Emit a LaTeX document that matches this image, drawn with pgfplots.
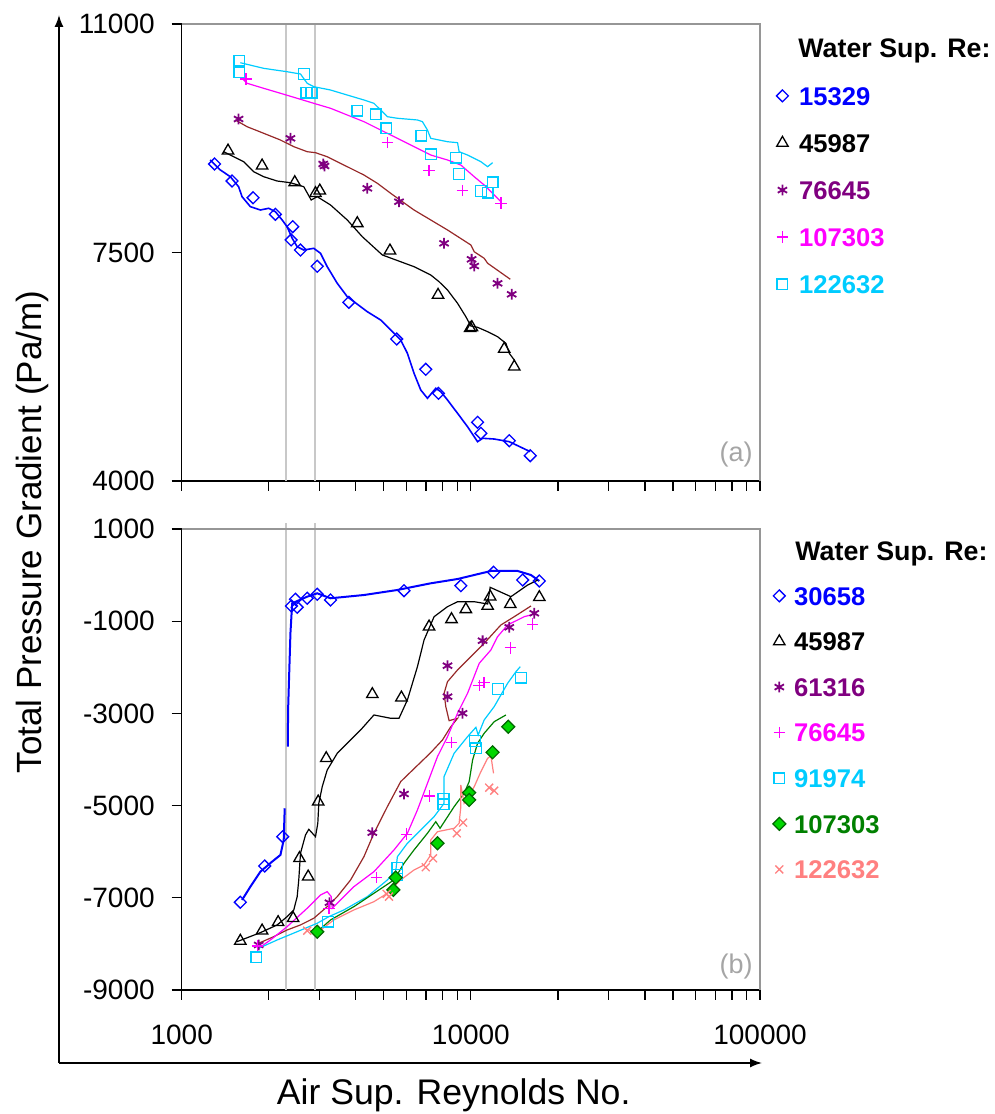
\documentclass[border=0pt]{standalone}
\usepackage{fontspec}
\setmainfont{Liberation Sans}
\usepackage{pgfplots}
\pgfplotsset{compat=1.18}
\usetikzlibrary{arrows.meta}

\definecolor{cBlue}{RGB}{0,0,255}
\definecolor{cPurple}{RGB}{128,0,128}
\definecolor{cBrown}{RGB}{150,40,40}
\definecolor{cMagenta}{RGB}{255,0,255}
\definecolor{cCyan}{RGB}{0,204,255}
\definecolor{cGreenFill}{RGB}{0,215,0}
\definecolor{cGreen}{RGB}{0,128,0}
\definecolor{cSalmon}{RGB}{255,128,128}
\definecolor{cFrame}{RGB}{150,150,150}
\definecolor{cGuide}{RGB}{200,200,200}
\definecolor{cTag}{RGB}{165,165,165}

% marker shapes
\tikzset{
  mkdia/.style={mark=square, mark size=2.1pt, mark options={rotate=45}, line width=0.65pt},
  mktri/.style={mark=triangle, mark size=3.3pt, line width=0.65pt},
  mkast/.style={mark=asterisk, mark size=2.7pt, line width=0.9pt},
  mkpls/.style={mark=+, mark size=2.9pt, line width=0.7pt},
  mksqr/.style={mark=square, mark size=2.7pt, line width=0.65pt},
  mkgdia/.style={mark=square*, mark size=2.3pt, line width=0.6pt,
                 mark options={rotate=45, fill=cGreenFill, draw=cGreen!80!black}},
  mkcrs/.style={mark=x, mark size=2.8pt, line width=0.65pt},
}

\begin{document}
\begin{tikzpicture}
\useasboundingbox (0pt,0pt) rectangle (497.5pt,557pt);

% ---------------- (a) ----------------
\begin{axis}[
  at={(90.85pt,316.5pt)}, anchor=south west,
  scale only axis, width=289.15pt, height=228.5pt,
  xmode=log, xmin=1000, xmax=100000,
  ymin=4000, ymax=11000,
  axis lines*=left,
  axis line style={-, line width=0.75pt, black},
  tick align=outside,
  major tick length=5pt, minor tick length=5pt,
  tick style={black, line width=0.6pt},
  scaled ticks=false,
  xtick={1000,10000,100000}, xticklabels={},
  ytick={4000,7500,11000}, yticklabels={4000,7500,11000},
  tick label style={font=\fontsize{14}{16}\selectfont},
  yticklabel style={xshift=-5pt},
  clip=false,
  legend cell align=left,
  legend style={draw=none, fill=none, inner sep=0pt, outer sep=0pt,
    at={(1.0285,0.8628)}, anchor=north west, row sep=14.4pt, column sep=5.4pt,
    nodes={font=\bfseries\fontsize{12.8}{14}\selectfont, text height=9.15pt,
           text depth=0pt, inner ysep=0pt, inner xsep=0pt, anchor=west}},
]
\addplot[forget plot, no markers, cGuide, line width=1pt] coordinates {(2300,4000) (2300,11000)};
\addplot[forget plot, no markers, cGuide, line width=1pt] coordinates {(2900,4000) (2900,11000)};

% Re_w = 15329
\addplot[forget plot, no markers, cBlue, line width=0.8pt] coordinates {
(1255,8917) (1360,8764) (1473,8661) (1573,8508) (1617,8355) (1728,8202) (1871,8151)
(1999,8177) (2109,8125) (2225,7998) (2315,7895) (2410,7718) (2508,7589) (2643,7538)
(2863,7564) (3020,7488) (3186,7283) (3451,7028) (3738,6823) (4385,6593) (4876,6466)
(5421,6262) (5719,6160) (6033,5956) (6360,5650) (6710,5394) (7078,5267) (7563,5420)
(7871,5368) (8303,5241) (8994,5037) (9740,4832) (10550,4602) (10980,4654) (12040,4643)
(13580,4602) (16050,4449)};
\addplot[only marks, cBlue, mkdia] coordinates {
(1299,8856) (1493,8595) (1765,8339) (2109,8085) (2421,7895) (2390,7692) (2575,7538)
(2942,7289) (3786,6737) (5540,6175) (6983,5711) (7727,5343) (10550,4899) (10830,4731)
(13580,4617) (16050,4388)};
\addlegendentry{\textcolor{cBlue}{15329}}

% Re_w = 45987
\addplot[forget plot, no markers, black, line width=0.6pt] coordinates {
(1396,9044) (1512,8967) (1638,8891) (1774,8738) (1921,8661) (2138,8595) (2377,8569)
(2643,8508) (2804,8304) (2942,8355) (3271,8228) (3738,7998) (4213,7742) (4942,7462)
(6360,7283) (7267,7155) (7764,7053) (8303,6926) (8994,6722) (9608,6517) (10000,6374)
(10550,6354) (11430,6287) (12370,6210) (13220,6109) (13580,5956) (14130,5853)};
\addplot[only marks, black, mktri] coordinates {
(1446,9059) (1897,8830) (2460,8575) (2902,8407) (3003,8447) (4048,7947) (5251,7528)
(7703,6849) (9944,6339) (10080,6354) (13040,6022) (14130,5751)};
\addlegendentry{45987}

% Re_w = 76645
\addplot[forget plot, no markers, cBrown, line width=0.6pt] coordinates {
(1533,9530) (1683,9427) (1921,9326) (2195,9223) (2441,9121) (2716,9044) (2902,9029)
(3186,8967) (3738,8814) (4268,8687) (4749,8560) (5280,8407) (6360,8151) (8303,7845)
(10000,7615) (10270,7512) (11120,7411) (11430,7335) (13690,7090)};
\addplot[only marks, cPurple, mkast] coordinates {
(1573,9545) (2377,9249) (3086,8856) (3118,8825) (4385,8483) (5643,8278) (8080,7641)
(10060,7396) (10270,7293) (12370,7028) (13840,6860)};
\addlegendentry{\textcolor{cPurple}{76645}}

% Re_w = 107303
\addplot[forget plot, no markers, cMagenta, line width=0.6pt] coordinates {
(1617,10168) (1683,10092) (1921,10015) (2195,9939) (2508,9862) (2863,9785) (3271,9709)
(3738,9606) (4268,9504) (4876,9376) (5571,9249) (6360,9121) (7267,8993) (8303,8917)
(9233,8840) (10270,8661) (11120,8534) (12700,8278)};
\addplot[only marks, cMagenta, mkpls] coordinates {
(1669,10158) (5143,9182) (7169,8753) (9359,8447) (12700,8254)};
\addlegendentry{\textcolor{cMagenta}{107303}}

% Re_w = 122632
\addplot[forget plot, no markers, cCyan, line width=0.6pt] coordinates {
(1595,10407) (1921,10321) (2315,10269) (2575,10234) (2716,10092) (2863,10040)
(3271,9989) (3738,9912) (4268,9836) (4622,9785) (4876,9683) (5143,9580) (5571,9556)
(6535,9530) (6801,9504) (7078,9376) (7267,9249) (8303,9197) (8994,9182) (9108,9044)
(9740,8993) (10830,8891) (11430,8814) (11890,8876)};
\addplot[only marks, cCyan, mksqr] coordinates {
(1582,10438) (1582,10260) (2643,10234) (2701,9948) (2811,9948) (4048,9672) (4685,9617)
(5102,9402) (6747,9289) (7267,9004) (8872,8952) (9108,8702) (10830,8442) (11430,8416)
(11890,8575)};
\addlegendentry{\textcolor{cCyan}{122632}}

\draw[cFrame, line width=0.75pt] (rel axis cs:0,1) -- (rel axis cs:1,1) -- (rel axis cs:1,0);
\node[anchor=base west, inner sep=0pt, font=\bfseries\fontsize{13.4}{15}\selectfont]
  at (rel axis cs:1.0657,0.9271) {Water Sup. Re:};
\node[text=cTag, font=\fontsize{13.5}{16}\selectfont] at (rel axis cs:0.9585,0.057) {(a)};
\end{axis}

% ---------------- (b) ----------------
\begin{axis}[
  at={(90.85pt,62pt)}, anchor=south west,
  scale only axis, width=289.15pt, height=230.5pt,
  xmode=log, xmin=1000, xmax=100000,
  ymin=-9000, ymax=1000,
  axis lines*=left,
  axis line style={-, line width=0.75pt, black},
  tick align=outside,
  major tick length=5pt, minor tick length=5pt,
  tick style={black, line width=0.6pt},
  scaled ticks=false,
  xtick={1000,10000,100000}, xticklabels={1000,10000,100000},
  ytick={-9000,-7000,-5000,-3000,-1000,1000},
  yticklabels={-9000,-7000,-5000,-3000,-1000,1000},
  tick label style={font=\fontsize{14}{16}\selectfont},
  yticklabel style={xshift=-5pt},
  xticklabel style={yshift=-9pt},
  clip=false,
  legend cell align=left,
  legend style={draw=none, fill=none, inner sep=0pt, outer sep=0pt,
    at={(1.0221,0.8748)}, anchor=north west, row sep=13.65pt, column sep=4.2pt,
    nodes={font=\bfseries\fontsize{12.8}{14}\selectfont, text height=9.15pt,
           text depth=0pt, inner ysep=0pt, inner xsep=0pt, anchor=west}},
]
\addplot[forget plot, no markers, cGuide, line width=1pt] coordinates {(2300,-9000) (2300,1140)};
\addplot[forget plot, no markers, cGuide, line width=1pt] coordinates {(2900,-9000) (2900,1140)};

% Re_w = 30658
\addplot[forget plot, no markers, cBlue, line width=1pt] coordinates {
(1617,-7047) (1728,-6759) (1871,-6433) (2054,-6216) (2195,-6071) (2253,-5746) (2271,-5058)};
\addplot[forget plot, no markers, cBlue, line width=1pt] coordinates {
(2327,-3722) (2334,-2889) (2377,-1262) (2410,-612) (2716,-468) (2942,-395) (3271,-503)
(4268,-432) (5571,-323) (7267,-178) (8994,-85) (11730,89) (14520,89) (16140,2) (17250,-128)};
\addplot[only marks, cBlue, mkdia] coordinates {
(1595,-7097) (1936,-6310) (2236,-5674) (2396,-670) (2474,-525) (2508,-698) (2716,-503)
(2942,-416) (3271,-540) (5872,-338) (9233,-230) (11980,61) (15110,-106) (17250,-128)};
\addlegendentry{\textcolor{cBlue}{30658}}

% Re_w = 45987
\addplot[forget plot, no markers, black, line width=0.6pt] coordinates {
(1554,-7951) (1871,-7756) (2138,-7589) (2315,-7409) (2441,-7264) (2508,-6975) (2540,-6613)
(2575,-6034) (2680,-5637) (2751,-5514) (2902,-5674) (2956,-5383) (2980,-4950) (3062,-4590)
(3186,-4227) (3451,-3865) (3838,-3577) (4156,-3360) (4622,-3034) (5280,-3106) (5643,-3106)
(6033,-2709) (6535,-1987) (6889,-1408) (7463,-902) (8303,-685) (8994,-577) (10270,-577)
(11430,-627) (11660,-265) (13760,-468) (15720,-215) (17030,-106)};
\addplot[only marks, black, mktri] coordinates {
(1595,-7936) (1897,-7713) (2155,-7531) (2429,-7444) (2554,-6143) (2738,-6542) (2965,-4915)
(3161,-3974) (4563,-2585) (5752,-2659) (7169,-1119) (8572,-959) (9608,-742) (11430,-670)
(11660,-468) (13690,-633) (17250,-481)};
\addlegendentry{45987}

% Re_w = 61316
\addplot[forget plot, no markers, cBrown, line width=0.6pt] coordinates {
(1846,-7986) (2081,-7843) (2315,-7698) (2575,-7589) (2863,-7444) (3186,-7192) (3451,-6975)
(3838,-6613) (4268,-6108) (4622,-5600) (5143,-5023) (5719,-4480) (6360,-4200) (7267,-3850)
(7977,-3577) (8500,-3300) (8994,-3106) (8410,-3158) (8191,-2854) (8080,-2564) (8303,-2312)
(8994,-2058) (10000,-1770) (11120,-1479) (12700,-1082) (14130,-902) (16140,-670)};
\addplot[only marks, cPurple, mkast] coordinates {
(1846,-8023) (3245,-7106) (4563,-5587) (5872,-4748) (8303,-1965) (8303,-2637) (9359,-2997)
(10980,-1423) (13580,-1132) (16570,-828)};
\addlegendentry{\textcolor{cPurple}{61316}}

% Re_w = 76645
\addplot[forget plot, no markers, cMagenta, line width=0.6pt] coordinates {
(1846,-8095) (2027,-7915) (2315,-7626) (2716,-7227) (3020,-6939) (3186,-6867) (3290,-6975)
(3316,-7227) (3939,-6759) (4622,-6433) (5421,-5962) (6033,-5600) (6535,-5095) (7078,-4516)
(7665,-3939) (8303,-3505) (8994,-2997) (9740,-2564) (10690,-1913) (11730,-1624)
(12370,-1336) (13400,-1082) (15300,-902) (16140,-865)};
\addplot[only marks, cMagenta, mkpls] coordinates {
(1831,-8045) (3227,-7227) (4722,-6563) (5986,-5622) (7198,-4791) (8572,-3631) (10690,-2399)
(11120,-2334) (13690,-1575) (16360,-1067)};
\addlegendentry{\textcolor{cMagenta}{76645}}

% Re_w = 91974
\addplot[forget plot, no markers, cCyan, line width=0.6pt] coordinates {
(1846,-8095) (2138,-7915) (2508,-7735) (2942,-7552) (3227,-7409) (3638,-7264) (4385,-6975)
(5143,-6613) (5496,-6433) (5571,-6108) (6033,-5817) (6710,-5529) (7463,-5240) (8080,-4950)
(8080,-4370) (8753,-3865) (9740,-3505) (10410,-3301) (10600,-3468) (11120,-3143)
(12040,-2854) (13400,-2347) (14320,-2095) (14820,-1987)};
\addplot[only marks, cCyan, mksqr] coordinates {
(1812,-8290) (3202,-7518) (5571,-6359) (5571,-6505) (8041,-4856) (8041,-4971) (10320,-3598)
(10410,-3757) (12430,-2470) (14900,-2225)};
\addlegendentry{\textcolor{cCyan}{91974}}

% Re_w = 107303
\addplot[forget plot, no markers, cGreen, line width=0.6pt] coordinates {
(2942,-7735) (3271,-7481) (3939,-7192) (4622,-6902) (5421,-6613) (5872,-6251) (6360,-5962)
(7078,-5600) (7563,-5349) (7826,-5492) (8753,-5023) (9478,-4733) (9865,-4481) (10140,-4010)
(10550,-3648) (11120,-3431) (12040,-3180) (13220,-3034)};
\addplot[only marks, mkgdia] coordinates {
(2942,-7735) (5395,-6830) (5496,-6563) (7665,-5817) (9865,-4720) (9865,-4878) (11890,-3843)
(13470,-3288)};
\addlegendentry{\textcolor{cGreen}{107303}}

% Re_w = 122632
\addplot[forget plot, no markers, cSalmon, line width=0.6pt] coordinates {
(2643,-7661) (2942,-7756) (3358,-7481) (3939,-7264) (4622,-7084) (5143,-6902) (5719,-6613)
(6360,-6396) (6889,-6288) (7267,-6071) (7267,-5746) (7665,-5566) (8753,-5492) (9108,-5383)
(9233,-5023) (9233,-4553) (9478,-4950) (10270,-4590) (10830,-4264) (11430,-3974)
(11730,-3924) (11980,-4299)};
\addplot[only marks, cSalmon, mkcrs] coordinates {
(2716,-7713) (5114,-6917) (5210,-6975) (6983,-6338) (7402,-6143) (8943,-5600) (9404,-5370)
(11570,-4611) (12040,-4676)};
\addlegendentry{\textcolor{cSalmon}{122632}}

\draw[cFrame, line width=0.75pt] (rel axis cs:0,1) -- (rel axis cs:1,1) -- (rel axis cs:1,0);
\node[anchor=base west, inner sep=0pt, font=\bfseries\fontsize{13.4}{15}\selectfont]
  at (rel axis cs:1.0605,0.9312) {Water Sup. Re:};
\node[text=cTag, font=\fontsize{13.5}{16}\selectfont] at (rel axis cs:0.9585,0.052) {(b)};
\end{axis}

% outer arrows and axis titles
\draw[line width=0.75pt, -{Latex[length=6pt,width=4.5pt]}] (29.5pt,25.5pt) -- (29.5pt,549.5pt);
\draw[line width=0.75pt, -{Latex[length=6pt,width=4.5pt]}] (29.5pt,25.5pt) -- (381pt,25.5pt);
\node[rotate=90, anchor=base, font=\fontsize{17.5}{20}\selectfont] at (20.85pt,291pt)
  {Total Pressure Gradient (Pa/m)};
\node[anchor=base, font=\fontsize{17.8}{20}\selectfont] at (226.85pt,5pt)
  {Air Sup. Reynolds No.};
\end{tikzpicture}
\end{document}
